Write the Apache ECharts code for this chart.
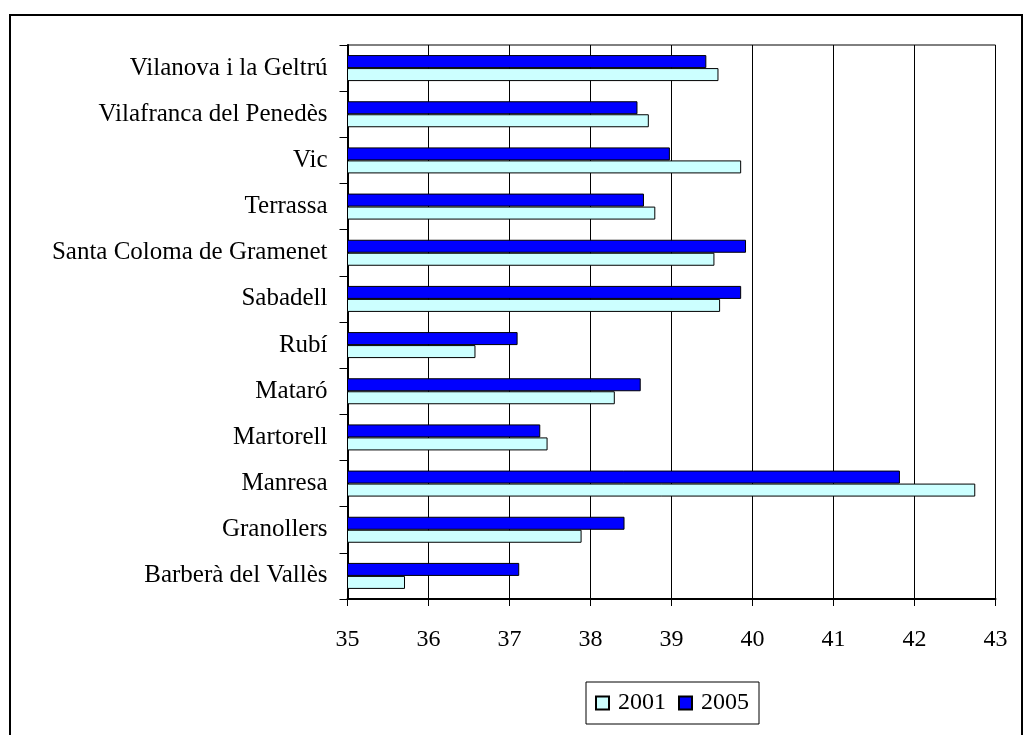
<!DOCTYPE html>
<html>
<head>
<meta charset="utf-8">
<script src="https://cdn.jsdelivr.net/npm/echarts@6/dist/echarts.min.js"></script>
<style>
html,body{margin:0;padding:0;background:#fff;}
#chart{width:1023px;height:735px;}
</style>
</head>
<body>
<div id="chart"></div>
<script>
const categories = ['Barberà del Vallès','Granollers','Manresa','Martorell','Mataró','Rubí','Sabadell','Santa Coloma de Gramenet','Terrassa','Vic','Vilafranca del Penedès','Vilanova i la Geltrú'];
const values2001 = [35.71, 37.89, 42.75, 37.47, 38.30, 36.58, 39.60, 39.53, 38.80, 39.86, 38.72, 39.58];
const values2005 = [37.12, 38.42, 41.82, 37.38, 38.62, 37.10, 39.86, 39.92, 38.66, 38.98, 38.58, 39.43];
const xTicks = {min: 35, max: 43, interval: 1};

const font = "'Liberation Serif', 'Times New Roman', serif";
const chart = echarts.init(document.getElementById('chart'), null, {renderer: 'canvas'});
chart.setOption({
  animation: false,
  backgroundColor: '#fff',
  graphic: [{
    type: 'rect',
    shape: {x: 10, y: 15, width: 1012, height: 740},
    style: {fill: 'none', stroke: '#000', lineWidth: 2},
    silent: true
  }],
  grid: {
    left: 347.5, top: 45, right: 27.5, bottom: 136,
    show: true, borderColor: '#000', borderWidth: 1, backgroundColor: 'transparent'
  },
  legend: {
    data: ['2001', '2005'],
    left: 586, top: 682,
    orient: 'horizontal',
    borderColor: '#000', borderWidth: 1,
    padding: [9, 10, 9, 9],
    itemWidth: 13, itemHeight: 13, itemGap: 12,
    icon: 'rect',
    textStyle: {fontFamily: font, fontSize: 24, color: '#000', padding: [0, 0, 0, 4]}
  },
  xAxis: {
    type: 'value',
    min: xTicks.min, max: xTicks.max, interval: xTicks.interval,
    axisLine: {show: true, lineStyle: {color: '#000', width: 2}},
    axisTick: {show: true, length: 7, lineStyle: {color: '#000', width: 1}},
    splitLine: {show: true, lineStyle: {color: '#000', width: 1}},
    axisLabel: {fontFamily: font, fontSize: 24, color: '#000', margin: 29}
  },
  yAxis: {
    type: 'category',
    data: categories,
    axisLine: {show: true, lineStyle: {color: '#000', width: 2}},
    axisTick: {show: true, length: 8, lineStyle: {color: '#000', width: 1}},
    axisLabel: {fontFamily: font, fontSize: 25, color: '#000', margin: 20}
  },
  series: [
    {
      name: '2005', type: 'bar', data: values2005,
      barWidth: 13, barGap: '0%',
      itemStyle: {color: '#0000FF', borderColor: '#000', borderWidth: 1}
    },
    {
      name: '2001', type: 'bar', data: values2001,
      barWidth: 13, barGap: '0%',
      itemStyle: {color: '#CCFFFF', borderColor: '#000', borderWidth: 1}
    }
  ]
});
</script>
</body>
</html>
